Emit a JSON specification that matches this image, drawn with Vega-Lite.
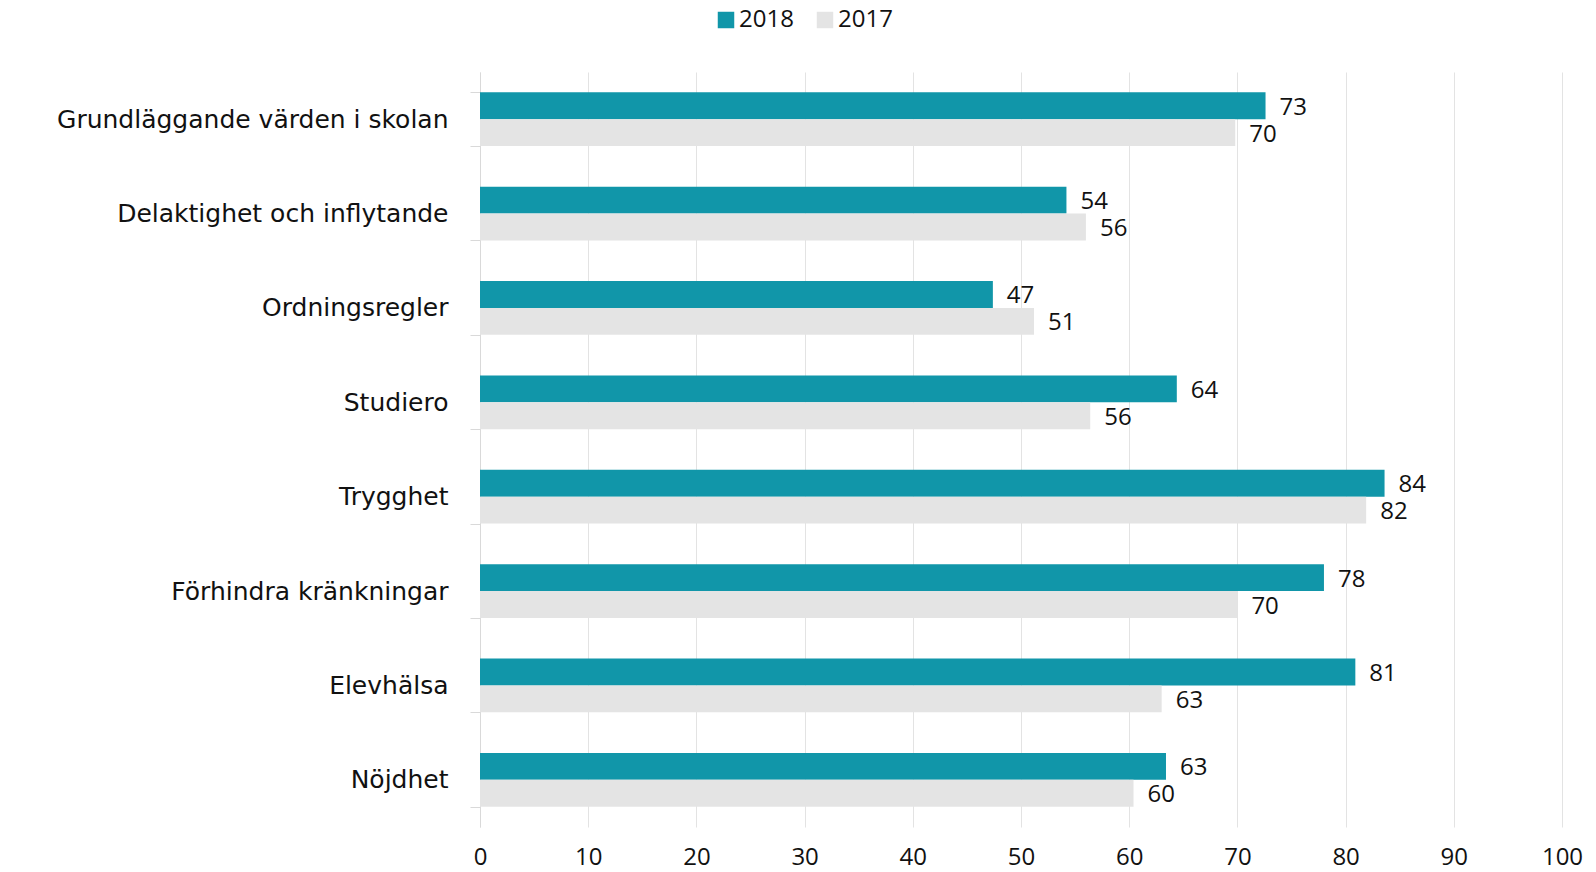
{
  "$schema": "https://vega.github.io/schema/vega-lite/v6.json",
  "width": 1082,
  "height": 755,
  "autosize": {"type": "none"},
  "padding": {"left": 480, "top": 72, "right": 34, "bottom": 45},
  "background": "white",
  "config": {
    "font": "Open Sans",
    "view": {"stroke": null},
    "axis": {"labelFont": "Open Sans", "labelColor": "#111111"},
    "legend": {"labelFont": "Open Sans"}
  },
  "data": {
    "values": [
      {"category": "Grundläggande värden i skolan", "year": "2018", "value": 72.6},
      {"category": "Grundläggande värden i skolan", "year": "2017", "value": 69.8},
      {"category": "Delaktighet och inflytande", "year": "2018", "value": 54.2},
      {"category": "Delaktighet och inflytande", "year": "2017", "value": 56.0},
      {"category": "Ordningsregler", "year": "2018", "value": 47.4},
      {"category": "Ordningsregler", "year": "2017", "value": 51.2},
      {"category": "Studiero", "year": "2018", "value": 64.4},
      {"category": "Studiero", "year": "2017", "value": 56.4},
      {"category": "Trygghet", "year": "2018", "value": 83.6},
      {"category": "Trygghet", "year": "2017", "value": 81.9},
      {"category": "Förhindra kränkningar", "year": "2018", "value": 78.0},
      {"category": "Förhindra kränkningar", "year": "2017", "value": 70.0},
      {"category": "Elevhälsa", "year": "2018", "value": 80.9},
      {"category": "Elevhälsa", "year": "2017", "value": 63.0},
      {"category": "Nöjdhet", "year": "2018", "value": 63.4},
      {"category": "Nöjdhet", "year": "2017", "value": 60.4}
    ]
  },
  "encoding": {
    "y": {
      "field": "category",
      "type": "nominal",
      "sort": ["Grundläggande värden i skolan", "Delaktighet och inflytande", "Ordningsregler", "Studiero", "Trygghet", "Förhindra kränkningar", "Elevhälsa", "Nöjdhet"],
      "scale": {"paddingInner": 0.43, "paddingOuter": 0.215},
      "axis": {
        "title": null,
        "labelFont": "DejaVu Sans",
        "labelFontSize": 25,
        "labelLimit": 0,
        "labelPadding": 22,
        "tickBand": "extent",
        "tickSize": 10,
        "tickColor": "#d9d9d9",
        "domainColor": "#d9d9d9",
        "grid": false
      }
    },
    "yOffset": {"field": "year", "type": "nominal", "sort": ["2018", "2017"]},
    "x": {
      "field": "value",
      "type": "quantitative",
      "scale": {"domain": [0, 100], "nice": false},
      "axis": {
        "title": null,
        "values": [0, 10, 20, 30, 40, 50, 60, 70, 80, 90, 100],
        "labelFontSize": 24,
        "labelFlush": false,
        "labelPadding": 18,
        "ticks": false,
        "domain": false,
        "grid": true,
        "gridColor": "#e3e3e3",
        "gridWidth": 1
      }
    }
  },
  "layer": [
    {
      "mark": {"type": "bar"},
      "encoding": {
        "color": {
          "field": "year",
          "type": "nominal",
          "scale": {"domain": ["2018", "2017"], "range": ["#1196a9", "#e4e4e4"]},
          "legend": {
            "title": null,
            "orient": "none",
            "direction": "horizontal",
            "legendX": 234,
            "legendY": -64,
            "symbolType": "square",
            "symbolSize": 272,
            "symbolStrokeWidth": 0,
            "labelFontSize": 24,
            "labelColor": "#111111",
            "columnPadding": 19,
            "labelOffset": 1
          }
        }
      }
    },
    {
      "mark": {"type": "text", "align": "left", "baseline": "middle", "dx": 14, "dy": 2, "fontSize": 24, "color": "#111111"},
      "encoding": {
        "text": {"field": "value", "type": "quantitative", "format": ".0f"}
      }
    }
  ]
}
